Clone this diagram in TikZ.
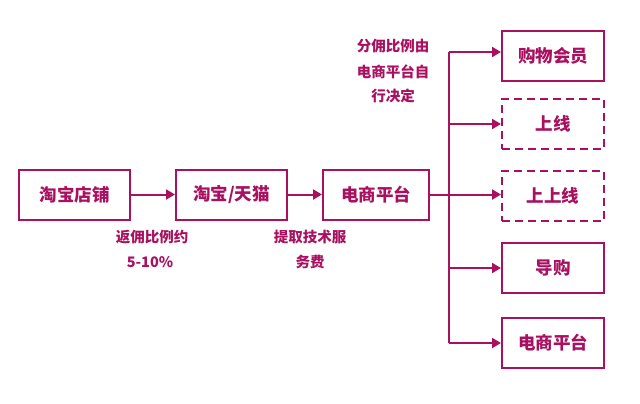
\documentclass[tikz,border=0pt]{standalone}
\usepackage{fontspec}
\setmainfont{Noto Sans CJK SC}
\usetikzlibrary{arrows.meta}
\definecolor{mg}{HTML}{A8115F}
\begin{document}
\begin{tikzpicture}[x=1pt,y=-1pt,
  box/.style={draw=mg,line width=2pt,minimum width=#1,minimum height=50pt,inner sep=0pt,text=mg,font=\fontsize{17.5}{20}\selectfont\bfseries},
  box/.default=111pt,
  dbox/.style={box=102pt,dash pattern=on 8pt off 5pt},
  lab/.style={text=mg,font=\fontsize{14.5}{17}\selectfont\bfseries,align=center},
  conn/.style={draw=mg,line width=2pt},
  arr/.style={conn,-{Triangle[length=9pt,width=10pt]}}]
\useasboundingbox (0,0) rectangle (640,404);
\node[box=111pt] (a) at (74.5,194.5) {淘宝店铺};
\node[box=111pt] (b) at (231.5,194.5) {淘宝/天猫};
\node[box=106pt] (c) at (376,194.5) {电商平台};
\node[box=102pt] (r1) at (553,56) {购物会员};
\node[dbox] (r2) at (553,124) {上线};
\node[dbox] (r3) at (553,196) {上上线};
\node[box=102pt] (r4) at (553,268) {导购};
\node[box=102pt] (r5) at (553,343) {电商平台};
\coordinate (bt) at (449,52);
\coordinate (bb) at (449,343);
\draw[arr] (a) -- (b);
\draw[arr] (b) -- (c);
\draw[conn] (bt) -- (bb);
\draw[arr] (bt) -- (r1.west |- bt);
\draw[arr] (bt |- r2) -- (r2.west);
\draw[arr] (c.east) -- (r3.west |- c.east);
\draw[arr] (bt |- r4) -- (r4.west);
\draw[arr] (bb) -- (r5.west);
\node[lab] (l1) at (152,237) {返佣比例约};
\node[lab] (l2) at (150,262) {5-10\%};
\node[lab] (l3) at (310,237) {提取技术服};
\node[lab] (l4) at (310,262) {务费};
\node[lab] (l5) at (393,46) {分佣比例由};
\node[lab] (l6) at (393,72) {电商平台自};
\node[lab] (l7) at (393,96) {行决定};
\end{tikzpicture}
\end{document}
